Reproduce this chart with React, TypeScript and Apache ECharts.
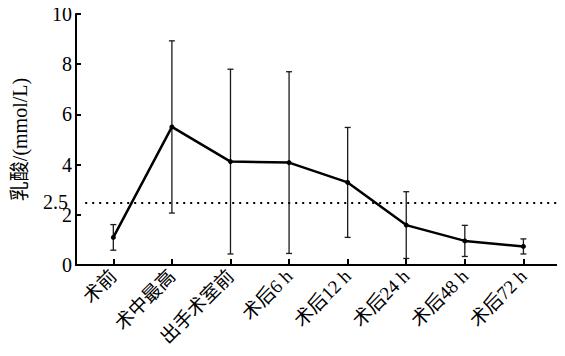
import React, { useEffect, useRef } from "react";
import * as echarts from "echarts";

const categories = ["术前", "术中最高", "出手术室前", "术后6 h", "术后12 h", "术后24 h", "术后48 h", "术后72 h"];
const means = [1.1, 5.5, 4.12, 4.08, 3.29, 1.59, 0.96, 0.74];
const sds = [0.51, 3.43, 3.68, 3.62, 2.19, 1.33, 0.62, 0.3];
const yLabelValues = [0, 2, 2.5, 4, 6, 8, 10];
const yTickValues = [0, 2, 4, 6, 8, 10];
const threshold = 2.5;

const FONT = "'Liberation Serif', 'Noto Sans CJK SC', serif";

export default function App() {
  const ref = useRef<HTMLDivElement>(null);
  useEffect(() => {
    if (!ref.current) return;
    const chart = echarts.init(ref.current, undefined, { renderer: "svg" });
    const pos = categories.map((_, i) => i + 1);
    const xMin = 0.363;
    const xMax = 8.71;
    const lineData = means.map((m, i) => [pos[i], m]);
    const errData = means.map((m, i) => [pos[i], m - sds[i], m + sds[i]]);
    chart.setOption({
      animation: false,
      backgroundColor: "#fff",
      grid: { left: 76, right: 0, top: 14, bottom: 91 },
      xAxis: {
        type: "value",
        min: xMin,
        max: xMax,
        splitLine: { show: false },
        axisLine: { show: true, onZero: false, lineStyle: { color: "#000", width: 2 } },
        axisTick: { show: true, inside: true, length: 6, customValues: pos, lineStyle: { color: "#000", width: 2 } },
        axisLabel: {
          customValues: pos,
          rotate: 45,
          margin: 8,
          color: "#000",
          fontFamily: FONT,
          fontSize: 19,
          formatter: (v: number) => categories[Math.round(v) - 1] ?? "",
        },
      },
      yAxis: {
        type: "value",
        min: 0,
        max: 10,
        name: "乳酸/(mmol/L)",
        nameLocation: "middle",
        nameRotate: 90,
        nameGap: 46,
        nameTextStyle: { color: "#000", fontFamily: FONT, fontSize: 20 },
        splitLine: { show: false },
        axisLine: { show: true, onZero: false, lineStyle: { color: "#000", width: 2 } },
        axisTick: { show: true, inside: true, length: 5, customValues: yTickValues, lineStyle: { color: "#000", width: 2 } },
        axisLabel: {
          customValues: yLabelValues,
          margin: 4,
          color: "#000",
          fontFamily: FONT,
          fontSize: 20,
          formatter: (v: number) => (v === 2.5 ? "{a|2.5}" : String(v)),
          rich: { a: { fontFamily: FONT, fontSize: 20, color: "#000", padding: [0, 4, 0, 0] } },
        },
      },
      series: [
        {
          type: "custom",
          data: errData,
          z: 1,
          renderItem: (params: any, api: any) => {
            const x = api.value(0);
            const lo = api.coord([x, api.value(1)]);
            const hi = api.coord([x, api.value(2)]);
            const w = 3;
            const style = { stroke: "#1a1a1a", lineWidth: 1.3 };
            return {
              type: "group",
              children: [
                { type: "line", shape: { x1: lo[0], y1: lo[1], x2: hi[0], y2: hi[1] }, style },
                { type: "line", shape: { x1: lo[0] - w, y1: lo[1], x2: lo[0] + w, y2: lo[1] }, style },
                { type: "line", shape: { x1: hi[0] - w, y1: hi[1], x2: hi[0] + w, y2: hi[1] }, style },
              ],
            };
          },
        },
        {
          type: "line",
          data: lineData,
          z: 2,
          symbol: "circle",
          symbolSize: 5,
          itemStyle: { color: "#000" },
          lineStyle: { color: "#000", width: 2.5 },
          markLine: {
            silent: true,
            symbol: "none",
            label: { show: false },
            lineStyle: { color: "#000", width: 2, type: [2, 5] },
            data: [[{ coord: [0.52, threshold] }, { coord: [xMax, threshold] }]],
          },
        },
      ],
    });
    return () => chart.dispose();
  }, []);
  return <div ref={ref} style={{ width: 565, height: 356, margin: -8 }} />;
}
